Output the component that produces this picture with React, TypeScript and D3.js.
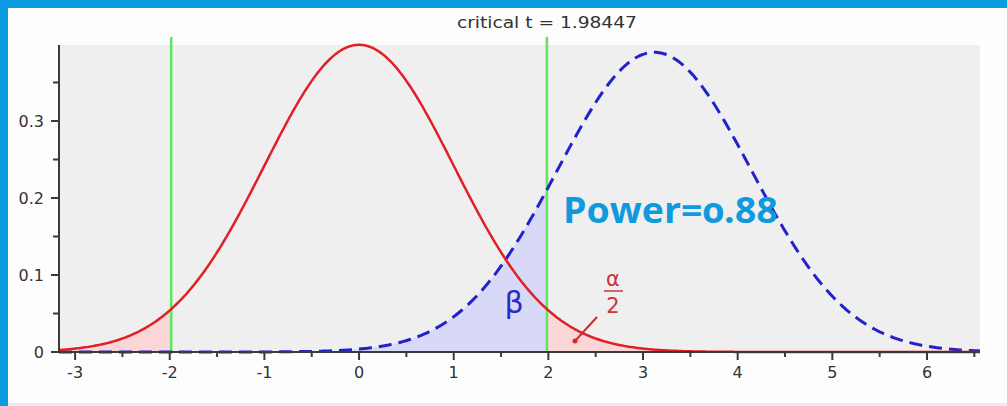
import React from "react";
import * as d3 from "d3";

// Null distribution (red) and alternative distribution (blue, dashed)
const distCenters = [0, 3.12];
const distSpreads = [1, 1.025];
const criticalT = [-1.98447, 1.98447];
const xMajorTicks = [-3, -2, -1, 0, 1, 2, 3, 4, 5, 6];
const xMinorTicks = [-2.5, -1.5, -0.5, 0.5, 1.5, 2.5, 3.5, 4.5, 5.5, 6.5];
const yMajorTicks = [0, 0.1, 0.2, 0.3];
const yMinorTicks = [0.05, 0.15, 0.25, 0.35];
const powerLabel = "Power=0.88";
const titleLabel = "critical t = 1.98447";

const W = 1007;
const H = 406;
const X_MIN = -3.17;
const X_MAX = 6.56;

function density(x: number, mu: number, sd: number) {
  const z = (x - mu) / sd;
  return Math.exp(-0.5 * z * z) / (sd * Math.sqrt(2 * Math.PI));
}

function sampleRange(a: number, b: number, n = 400) {
  return d3.range(n + 1).map((i) => a + ((b - a) * i) / n);
}

export default function App() {
  const x = d3.scaleLinear().domain([X_MIN, X_MAX]).range([59, 980]);
  const y = d3.scaleLinear().domain([0, 0.3987]).range([352, 45]);

  const nullPdf = (v: number) => density(v, distCenters[0], distSpreads[0]);
  const altPdf = (v: number) => density(v, distCenters[1], distSpreads[1]);

  const line = d3
    .line<[number, number]>()
    .x((d) => x(d[0]))
    .y((d) => y(d[1]))
    .curve(d3.curveLinear);
  const area = d3
    .area<[number, number]>()
    .x((d) => x(d[0]))
    .y0(y(0))
    .y1((d) => y(d[1]));

  const full = sampleRange(X_MIN, X_MAX, 600);
  const nullPts = full.map((v) => [v, nullPdf(v)] as [number, number]);
  const altPts = full.map((v) => [v, altPdf(v)] as [number, number]);

  const leftTail = sampleRange(X_MIN, criticalT[0]).map((v) => [v, nullPdf(v)] as [number, number]);
  const rightTail = sampleRange(criticalT[1], X_MAX).map((v) => [v, nullPdf(v)] as [number, number]);
  const betaArea = sampleRange(X_MIN, criticalT[1]).map((v) => [v, altPdf(v)] as [number, number]);

  const axisColor = "#3a3a3a";
  const labelColor = "#333";
  const font = "'DejaVu Sans', Verdana, sans-serif";

  return (
    <svg
      width={W}
      height={H}
      style={{ position: "absolute", left: 0, top: 0 }}
      xmlns="http://www.w3.org/2000/svg"
    >
      {/* page background and frame */}
      <rect x={0} y={0} width={W} height={H} fill="#fdfdfd" />
      <rect x={0} y={0} width={W} height={8} fill="#0b9be1" />
      <rect x={0} y={0} width={8} height={H} fill="#0b9be1" />
      <rect x={8} y={403} width={W - 8} height={3} fill="#ececec" />

      {/* plot area */}
      <rect x={x(X_MIN)} y={y(0.3987)} width={x(X_MAX) - x(X_MIN)} height={y(0) - y(0.3987)} fill="#efefef" />

      {/* shaded regions */}
      <path d={area(betaArea) || ""} fill="#d8d8f7" />
      <path d={area(leftTail) || ""} fill="#fad6d6" />
      <path d={area(rightTail) || ""} fill="#fad6d6" />

      {/* critical value lines */}
      {criticalT.map((c) => (
        <line key={c} x1={x(c)} x2={x(c)} y1={37} y2={y(0)} stroke="#5ee65e" strokeWidth={2.5} />
      ))}

      {/* curves */}
      <path d={line(altPts) || ""} fill="none" stroke="#2222cc" strokeWidth={3} strokeDasharray="13 7" />
      <path d={line(nullPts) || ""} fill="none" stroke="#e11f26" strokeWidth={2.5} />

      {/* y axis */}
      <line x1={x(X_MIN)} x2={x(X_MIN)} y1={y(0.3987)} y2={y(0)} stroke={axisColor} strokeWidth={2} />
      {yMajorTicks.map((t) => (
        <g key={"ym" + t}>
          <line x1={x(X_MIN) - 8} x2={x(X_MIN)} y1={y(t)} y2={y(t)} stroke={axisColor} strokeWidth={2} />
          <text
            x={44}
            y={y(t)}
            dy="0.35em"
            textAnchor="end"
            fontFamily={font}
            fontSize={16}
            fill={labelColor}
          >
            {t === 0 ? "0" : d3.format(".1f")(t)}
          </text>
        </g>
      ))}
      {yMinorTicks.map((t) => (
        <line key={"yn" + t} x1={x(X_MIN) - 6} x2={x(X_MIN)} y1={y(t)} y2={y(t)} stroke={axisColor} strokeWidth={2} />
      ))}

      {/* x axis */}
      <line x1={x(X_MIN) - 6} x2={x(X_MAX)} y1={y(0)} y2={y(0)} stroke={axisColor} strokeWidth={2} />
      {xMajorTicks.map((t) => (
        <g key={"xm" + t}>
          <line x1={x(t)} x2={x(t)} y1={y(0)} y2={y(0) + 8} stroke={axisColor} strokeWidth={2} />
          <text
            x={x(t)}
            y={378}
            textAnchor="middle"
            fontFamily={font}
            fontSize={16}
            fill={labelColor}
          >
            {String(t)}
          </text>
        </g>
      ))}
      {xMinorTicks.map((t) => (
        <line key={"xn" + t} x1={x(t)} x2={x(t)} y1={y(0)} y2={y(0) + 5} stroke={axisColor} strokeWidth={2} />
      ))}

      {/* title */}
      <text
        x={x(criticalT[1])}
        y={28}
        textAnchor="middle"
        fontFamily={font}
        fontSize={16}
        fill="#333"
        textLength={180}
        lengthAdjust="spacingAndGlyphs"
      >
        {titleLabel}
      </text>

      {/* annotations */}
      <text
        x={563}
        y={223}
        fontFamily="'Open Sans', 'Noto Sans', sans-serif"
        fontWeight="bold"
        fontSize={36}
        fill="#109ade"
        textLength={215}
        lengthAdjust="spacingAndGlyphs"
        style={{ fontFeatureSettings: "'onum' 1", fontVariantNumeric: "oldstyle-nums" }}
      >
        {powerLabel}
      </text>

      <text x={514} y={313} textAnchor="middle" fontFamily={font} fontSize={30} fill="#2a2ac8">
        β
      </text>

      <text x={613} y={286} textAnchor="middle" fontFamily={font} fontSize={21} fill="#c8353a">
        α
      </text>
      <line x1={604} x2={623} y1={291} y2={291} stroke="#c8353a" strokeWidth={1.5} />
      <text x={613} y={313} textAnchor="middle" fontFamily={font} fontSize={21} fill="#c8353a">
        2
      </text>
      <line x1={597} y1={317} x2={575} y2={341} stroke="#d42a2a" strokeWidth={2} />
      <circle cx={575} cy={341} r={2.5} fill="#d42a2a" />
    </svg>
  );
}
